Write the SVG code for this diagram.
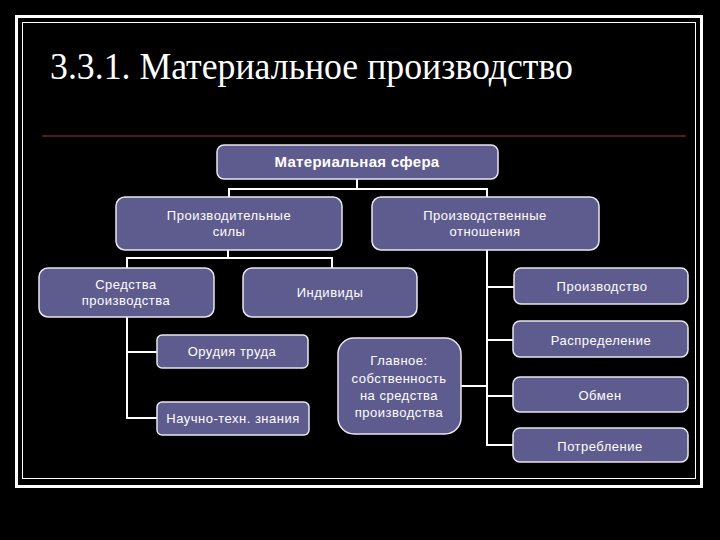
<svg xmlns="http://www.w3.org/2000/svg" width="720" height="540" viewBox="0 0 720 540">
<style>
.box{fill:#5e5b8e;stroke:#e8e8f0;stroke-width:1.5}
.t{font-family:"Liberation Sans",Arial,sans-serif;font-size:13px;fill:#ffffff;text-anchor:middle;letter-spacing:0.5px}
.b{font-weight:bold;font-size:15px;letter-spacing:0.3px}
.c{fill:none;stroke:#ffffff;stroke-width:2}
</style>
<rect x="0" y="0" width="720" height="540" fill="#000000"/>
<rect x="16.5" y="16.5" width="685" height="470" fill="none" stroke="#ffffff" stroke-width="3"/>
<rect x="22.5" y="22.5" width="673" height="456" fill="none" stroke="#ffffff" stroke-width="1"/>
<text x="50" y="79" font-family="'Liberation Serif','Times New Roman',serif" font-size="37" fill="#ffffff" textLength="523" lengthAdjust="spacingAndGlyphs">3.3.1. Материальное производство</text>
<line x1="42" y1="136" x2="686" y2="136" stroke="#6a2424" stroke-width="1.5"/>
<g id="connectors" class="c">
<polyline points="357,179 357,189"/>
<polyline points="229,197 229,189 487,189 487,197"/>
<polyline points="228,250 228,258"/>
<polyline points="127,268 127,258 332,258 332,268"/>
<polyline points="127,317 127,418 157,418"/>
<polyline points="127,352 157,352"/>
<polyline points="487,250 487,445 513,445"/>
<polyline points="487,287 514,287"/>
<polyline points="487,340 513,340"/>
<polyline points="487,396 513,396"/>
<polyline points="461,386 487,386"/>
</g>
<g id="n1"><rect class="box" x="217" y="145" width="281" height="34" rx="7"/><text class="t b" x="357" y="167">Материальная сфера</text></g>
<g id="n2"><rect class="box" x="116" y="197" width="226" height="53" rx="9"/><text class="t" x="229" y="220">Производительные</text><text class="t" x="229" y="236">силы</text></g>
<g id="n3"><rect class="box" x="372" y="197" width="227" height="53" rx="9"/><text class="t" x="485" y="220">Производственные</text><text class="t" x="485" y="236">отношения</text></g>
<g id="n4"><rect class="box" x="39" y="268" width="175" height="49" rx="9"/><text class="t" x="126" y="289">Средства</text><text class="t" x="126" y="305">производства</text></g>
<g id="n5"><rect class="box" x="243" y="268" width="174" height="49" rx="9"/><text class="t" x="330" y="297">Индивиды</text></g>
<g id="n6"><rect class="box" x="157" y="335" width="151" height="33" rx="5"/><text class="t" x="232" y="356">Орудия труда</text></g>
<g id="n7"><rect class="box" x="157" y="402" width="152" height="33" rx="5"/><text class="t" x="233" y="423">Научно-техн. знания</text></g>
<g id="n8"><rect class="box" x="338" y="338" width="123" height="96" rx="16"/><text class="t" x="399" y="365">Главное:</text><text class="t" x="399" y="383">собственность</text><text class="t" x="399" y="400">на средства</text><text class="t" x="399" y="417">производства</text></g>
<g id="n9"><rect class="box" x="514" y="268" width="174" height="36" rx="7"/><text class="t" x="602" y="291">Производство</text></g>
<g id="n10"><rect class="box" x="513" y="321" width="175" height="36" rx="7"/><text class="t" x="601" y="345">Распределение</text></g>
<g id="n11"><rect class="box" x="513" y="377" width="175" height="35" rx="7"/><text class="t" x="600" y="400">Обмен</text></g>
<g id="n12"><rect class="box" x="513" y="428" width="175" height="34" rx="7"/><text class="t" x="600" y="451">Потребление</text></g>
</svg>
